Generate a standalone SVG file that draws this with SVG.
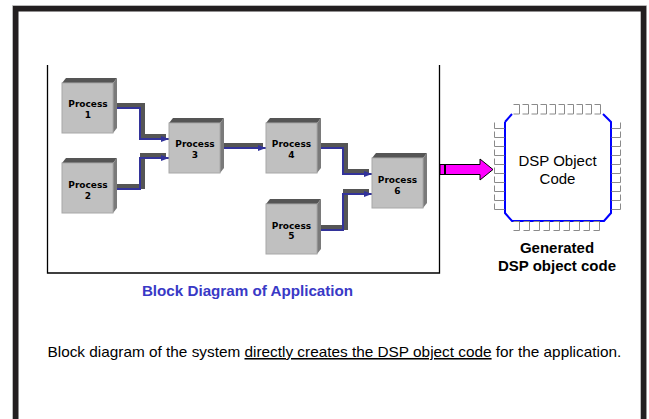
<svg xmlns="http://www.w3.org/2000/svg" width="649" height="419" viewBox="0 0 649 419">
<style>
.face{fill:#c0c0c0;stroke:#a8a8a8;stroke-width:1}
.top{fill:#555555}
.side{fill:#7a7a7a}
.ptxt{font-family:"DejaVu Sans",Verdana,sans-serif;font-weight:bold;font-size:9px;fill:#000;text-anchor:middle}
.band{fill:none;stroke:#555555;stroke-width:5;stroke-linejoin:miter}
.wire{fill:none;stroke:#33339a;stroke-width:2;marker-end:url(#ah)}
.pin{fill:none;stroke:#8a8a8a;stroke-width:1}
.lbl{font-family:"Liberation Sans",Arial,sans-serif;font-size:15px;fill:#000;text-anchor:middle}
</style>
<defs>
<marker id="ah" markerUnits="userSpaceOnUse" markerWidth="9" markerHeight="7" refX="8" refY="3" orient="auto">
<path d="M0,0 L8,3 L0,6 z" fill="#33339a"/>
</marker>
</defs>
<rect width="649" height="419" fill="#ffffff"/>
<rect x="12.5" y="5.5" width="634" height="460" fill="none" stroke="#cccccc" stroke-width="1"/>
<rect x="15.7" y="8.7" width="627.8" height="450" fill="none" stroke="#231f20" stroke-width="5.6"/>
<path d="M47.5,65 V273 H439.5 V65" fill="none" stroke="#000" stroke-width="1.3"/>

<g id="connectors">
<path class="band" d="M114,105.5 H142.5 V136.5 H166"/>
<path class="wire" d="M114,108 H140 V139 H169"/>
<path class="band" d="M114,186.5 H142.5 V155.5 H166"/>
<path class="wire" d="M114,189 H140 V158 H169"/>
<path class="band" d="M220,145.5 H263"/>
<path class="wire" d="M220,148 H266"/>
<path class="band" d="M317,145.5 H345.5 V171.5 H369"/>
<path class="wire" d="M317,148 H343 V174 H372"/>
<path class="band" d="M317,227.5 H345.5 V191.5 H369"/>
<path class="wire" d="M317,230 H343 V194 H372"/>
</g>

<g id="process1" transform="translate(62,83)">
<polygon class="top" points="0,0 4,-5 55,-5 51,0"/>
<polygon class="side" points="51,0 55,-5 55,45 51,50"/>
<rect class="face" x="0" y="0" width="51" height="50"/>
<text class="ptxt" x="26" y="24">Process</text>
<text class="ptxt" x="26" y="34.5">1</text>
</g>
<g id="process2" transform="translate(62,163)">
<polygon class="top" points="0,0 4,-5 55,-5 51,0"/>
<polygon class="side" points="51,0 55,-5 55,45 51,50"/>
<rect class="face" x="0" y="0" width="51" height="50"/>
<text class="ptxt" x="26" y="25">Process</text>
<text class="ptxt" x="26" y="36">2</text>
</g>
<g id="process3" transform="translate(169,123)">
<polygon class="top" points="0,0 4,-5 55,-5 51,0"/>
<polygon class="side" points="51,0 55,-5 55,45 51,50"/>
<rect class="face" x="0" y="0" width="51" height="50"/>
<text class="ptxt" x="26" y="24">Process</text>
<text class="ptxt" x="26" y="34.5">3</text>
</g>
<g id="process4" transform="translate(266,123)">
<polygon class="top" points="0,0 4,-5 55,-5 51,0"/>
<polygon class="side" points="51,0 55,-5 55,45 51,50"/>
<rect class="face" x="0" y="0" width="51" height="50"/>
<text class="ptxt" x="25.5" y="24">Process</text>
<text class="ptxt" x="25.5" y="34.5">4</text>
</g>
<g id="process5" transform="translate(266,204)">
<polygon class="top" points="0,0 4,-5 55,-5 51,0"/>
<polygon class="side" points="51,0 55,-5 55,45 51,50"/>
<rect class="face" x="0" y="0" width="51" height="50"/>
<text class="ptxt" x="25.5" y="24.5">Process</text>
<text class="ptxt" x="25.5" y="34.5">5</text>
</g>
<g id="process6" transform="translate(372,158)">
<polygon class="top" points="0,0 4,-5 55,-5 51,0"/>
<polygon class="side" points="51,0 55,-5 55,45 51,50"/>
<rect class="face" x="0" y="0" width="51" height="50"/>
<text class="ptxt" x="25.5" y="25">Process</text>
<text class="ptxt" x="25.5" y="35.5">6</text>
</g>

<text id="title" x="247.5" y="296" font-family="Liberation Sans, Arial, sans-serif" font-weight="bold" font-size="15.2" fill="#3939c6" text-anchor="middle">Block Diagram of Application</text>

<g id="arrow">
<polygon points="440,164.5 480,164.5 480,159 493,169.5 480,180 480,174.5 440,174.5" fill="#ff00ff" stroke="#000" stroke-width="1"/>
<rect x="444" y="164.5" width="2" height="10" fill="#000"/>
</g>

<g id="dsp">
<path d="M505,122 L512,114 M603,114 L611,122 V213 L604,221 H512 L505,213 V122" fill="none" stroke="#0000ff" stroke-width="2"/>
<path class="pin" d="M513.5,104.5 h6 v9.5 h-6 M522.5,104.5 h6 v9.5 h-6 M531.5,104.5 h6 v9.5 h-6 M540.5,104.5 h6 v9.5 h-6 M549.5,104.5 h6 v9.5 h-6 M558.5,104.5 h6 v9.5 h-6 M567.5,104.5 h6 v9.5 h-6 M576.5,104.5 h6 v9.5 h-6 M585.5,104.5 h6 v9.5 h-6 M594.5,104.5 h6 v9.5 h-6"/>
<path class="pin" d="M513.5,221.5 h6 v9 h-6 M523.5,221.5 h6 v9 h-6 M533.5,221.5 h6 v9 h-6 M543.5,221.5 h6 v9 h-6 M553.5,221.5 h6 v9 h-6 M563.5,221.5 h6 v9 h-6 M573.5,221.5 h6 v9 h-6 M583.5,221.5 h6 v9 h-6 M593.5,221.5 h6 v9 h-6"/>
<path class="pin" d="M494.5,122.5 v6 h10 M494.5,131.5 v6 h10 M494.5,140.5 v6 h10 M494.5,149.5 v6 h10 M494.5,158.5 v6 h10 M494.5,167.5 v6 h10 M494.5,176.5 v6 h10 M494.5,185.5 v6 h10 M494.5,194.5 v6 h10 M494.5,203.5 v6 h10"/>
<path class="pin" d="M620.5,122.5 v6 h-9 M620.5,131.5 v6 h-9 M620.5,140.5 v6 h-9 M620.5,149.5 v6 h-9 M620.5,158.5 v6 h-9 M620.5,167.5 v6 h-9 M620.5,176.5 v6 h-9 M620.5,185.5 v6 h-9 M620.5,194.5 v6 h-9 M620.5,203.5 v6 h-9"/>
<text class="lbl" x="557.5" y="166">DSP Object</text>
<text class="lbl" x="557.5" y="184">Code</text>
</g>

<g id="dsp-label">
<text class="lbl" x="557" y="253" font-weight="bold">Generated</text>
<text class="lbl" x="557" y="271" font-weight="bold">DSP object code</text>
</g>

<text id="caption" x="47.5" y="357" font-family="Liberation Sans, Arial, sans-serif" font-size="15.35" fill="#000">Block diagram of the system <tspan text-decoration="underline">directly creates the DSP object code</tspan> for the application.</text>
</svg>
